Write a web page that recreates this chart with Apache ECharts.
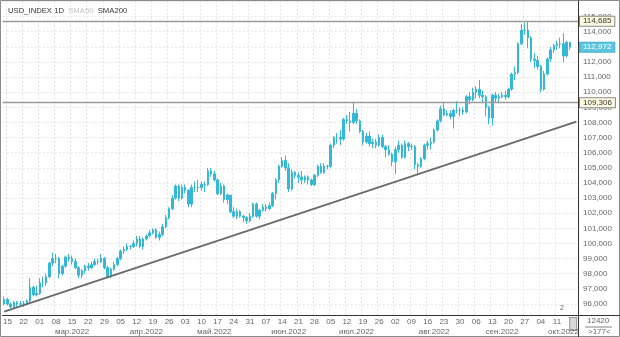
<!DOCTYPE html>
<html>
<head>
<meta charset="utf-8">
<script src="https://cdn.jsdelivr.net/npm/echarts@6/dist/echarts.min.js"></script>
<style>html,body{margin:0;padding:0;background:#fff}#c{width:620px;height:337px}</style>
</head>
<body>
<div id="c"></div>
<script>
const dates = ['02-14','02-15','02-16','02-17','02-18','02-21','02-22','02-23','02-24','02-25','02-28','03-01','03-02','03-03','03-04','03-07','03-08','03-09','03-10','03-11','03-14','03-15','03-16','03-17','03-18','03-21','03-22','03-23','03-24','03-25','03-28','03-29','03-30','03-31','04-01','04-04','04-05','04-06','04-07','04-08','04-11','04-12','04-13','04-14','04-15','04-18','04-19','04-20','04-21','04-22','04-25','04-26','04-27','04-28','04-29','05-02','05-03','05-04','05-05','05-06','05-09','05-10','05-11','05-12','05-13','05-16','05-17','05-18','05-19','05-20','05-23','05-24','05-25','05-26','05-27','05-30','05-31','06-01','06-02','06-03','06-06','06-07','06-08','06-09','06-10','06-13','06-14','06-15','06-16','06-17','06-20','06-21','06-22','06-23','06-24','06-27','06-28','06-29','06-30','07-01','07-04','07-05','07-06','07-07','07-08','07-11','07-12','07-13','07-14','07-15','07-18','07-19','07-20','07-21','07-22','07-25','07-26','07-27','07-28','07-29','08-01','08-02','08-03','08-04','08-05','08-08','08-09','08-10','08-11','08-12','08-15','08-16','08-17','08-18','08-19','08-22','08-23','08-24','08-25','08-26','08-29','08-30','08-31','09-01','09-02','09-05','09-06','09-07','09-08','09-09','09-12','09-13','09-14','09-15','09-16','09-19','09-20','09-21','09-22','09-23','09-26','09-27','09-28','09-29','09-30','10-03','10-04','10-05','10-06','10-07','10-10','10-11','10-12','10-13','10-14','10-17','10-18','10-19'];

const openV = [96.0,96.3,96.0,95.8,96.1, 96.0,96.0,96.0,96.2,97.1, 96.6,96.7,97.4,97.4,97.8, 98.7,99.0,99.0,98.0,98.5,
99.1,99.0,98.8,98.4,97.9, 98.2,98.5,98.4,98.6,98.8, 98.8,99.0,98.4,97.8,98.3, 98.6,99.0,99.5,99.6,99.8,
99.8,100.0,100.3,99.8,100.3, 100.5,100.7,100.9,100.4,100.6, 101.1,101.7,102.3,103.0,103.8, 103.0,103.7,103.5,102.6,103.7,
103.7,103.7,103.9,103.9,104.8, 104.6,104.2,103.3,103.8,102.9, 103.2,102.1,101.8,102.1,101.8, 101.7,101.5,101.8,102.6,101.8,
102.2,102.4,102.3,102.5,103.3, 104.2,105.1,105.5,105.0,103.6, 104.7,104.5,104.4,104.2,104.4, 104.2,103.9,104.5,105.1,104.7,
105.1,105.1,106.5,107.0,107.0, 106.9,108.2,108.1,108.0,108.6, 108.1,107.4,106.7,107.1,106.6, 106.7,106.5,107.0,106.4,106.2,
105.9,105.4,106.2,106.5,105.7, 106.6,106.4,106.4,105.2,105.1, 105.6,106.5,106.6,106.7,107.5, 108.1,108.9,108.5,108.6,108.4,
108.8,108.8,108.8,108.7,109.7, 109.5,110.0,110.2,109.8,109.7, 109.0,108.3,109.8,109.6,109.7, 109.8,109.7,110.2,111.2,111.3,
113.2,114.1,114.1,113.6,112.2, 112.1,111.7,110.2,111.2,112.2, 112.8,113.1,113.2,113.2,112.4, 113.3];

const closeV = [96.3,96.0,95.8,96.1,96.0, 96.0,96.0,96.2,97.1,96.6, 96.7,97.4,97.4,97.8,98.7, 99.0,99.0,98.0,98.5,99.1,
99.0,98.8,98.4,97.9,98.2, 98.5,98.4,98.6,98.8,98.8, 99.0,98.4,97.8,98.3,98.6, 99.0,99.5,99.6,99.8,99.8,
100.0,100.3,99.8,100.3,100.5, 100.7,100.9,100.4,100.6,101.1, 101.7,102.3,103.0,103.8,103.0, 103.7,103.5,102.6,103.7,103.7,
103.7,103.9,103.9,104.8,104.6, 104.2,103.3,103.8,102.9,103.2, 102.1,101.8,102.1,101.8,101.7, 101.5,101.8,102.6,101.8,102.2,
102.4,102.3,102.5,103.3,104.2, 105.1,105.5,105.0,103.6,104.7, 104.5,104.4,104.2,104.4,104.2, 103.9,104.5,105.1,104.7,105.1,
105.1,106.5,107.0,107.0,106.9, 108.2,108.1,108.0,108.6,108.1, 107.4,106.7,107.1,106.6,106.7, 106.5,107.0,106.4,106.2,105.9,
105.4,106.2,106.5,105.7,106.6, 106.4,106.4,105.2,105.1,105.6, 106.5,106.6,106.7,107.5,108.1, 108.9,108.5,108.6,108.4,108.8,
108.8,108.8,108.7,109.7,109.5, 110.0,110.2,109.8,109.7,109.0, 108.3,109.8,109.6,109.7,109.8, 109.7,110.2,111.2,111.3,113.2,
114.1,114.1,113.6,112.2,112.1, 111.7,110.2,111.2,112.2,112.8, 113.1,113.2,113.2,112.4,113.3, 112.972];

const lowV = [95.9,95.9,95.7,95.7,95.8, 95.9,95.8,95.9,96.1,96.5, 96.5,96.6,97.1,97.2,97.7, 98.5,98.7,97.7,97.9,98.4,
98.8,98.6,98.3,97.7,97.7, 98.0,98.2,98.3,98.5,98.6, 98.7,98.3,97.7,97.7,98.2, 98.5,98.9,99.3,99.5,99.6,
99.7,99.8,99.7,99.6,100.2, 100.4,100.6,100.3,100.2,100.5, 101.0,101.6,102.2,102.9,102.8, 102.9,103.3,102.4,102.4,103.4,
103.4,103.5,103.4,103.8,104.4, 104.1,103.2,103.2,102.7,102.6, 102.0,101.7,101.6,101.7,101.4, 101.3,101.4,101.7,101.7,101.6,
102.1,102.1,102.2,102.4,102.9, 104.0,105.0,104.8,103.4,103.5, 104.3,104.0,103.9,104.0,103.9, 103.8,103.8,104.4,104.6,104.6,
104.9,105.0,106.3,106.6,106.5, 106.8,107.9,107.4,107.9,107.9, 107.3,106.5,106.6,106.4,106.3, 106.3,106.4,106.3,105.7,105.8,
105.1,104.6,106.0,105.6,105.6, 106.1,106.2,104.9,104.6,105.0, 105.5,106.2,106.2,106.6,107.4, 108.0,108.4,108.4,108.2,107.6,
108.6,108.4,108.5,108.6,109.2, 109.4,109.6,109.6,109.3,108.4, 107.9,107.8,109.3,109.3,109.6, 109.5,109.6,110.1,110.8,111.2,
113.1,113.8,112.9,112.0,111.6, 111.5,110.0,110.1,111.1,112.0, 112.6,112.8,112.9,112.0,112.3, 112.8];

const highV = [96.5,96.4,96.1,96.2,96.2, 96.2,96.2,96.3,97.7,97.2, 97.2,97.7,97.8,98.0,98.8, 99.4,99.3,99.1,98.6,99.2,
99.3,99.2,99.0,98.5,98.3, 98.6,98.7,98.8,99.0,99.0, 99.3,99.1,98.5,98.4,98.8, 99.1,99.6,99.8,100.0,99.9,
100.2,100.5,100.5,100.4,100.6, 100.9,101.0,101.0,100.8,101.3, 101.9,102.4,103.2,103.9,103.9, 103.9,103.9,103.6,103.9,104.1,
104.2,104.1,104.1,105.0,105.0, 104.8,104.3,104.0,103.9,103.3, 103.2,102.4,102.3,102.2,101.9, 101.8,102.0,102.7,102.7,102.3,
102.6,102.6,102.7,103.4,104.3, 105.2,105.7,105.8,105.3,104.9, 104.8,104.7,104.8,104.5,104.5, 104.3,104.6,105.2,105.3,105.3,
105.2,106.6,107.1,107.3,107.5, 108.3,108.5,108.7,109.3,108.9, 108.2,107.5,107.3,107.4,106.9, 106.9,107.2,107.2,106.5,106.5,
106.0,106.4,106.8,106.6,106.8, 106.7,106.6,106.5,105.3,105.7, 106.6,106.8,107.0,107.6,108.2, 109.1,109.3,108.8,108.8,108.9,
109.4,109.0,109.0,109.8,110.0, 110.3,110.4,110.8,110.1,109.8, 109.1,109.9,110.0,109.9,110.0, 110.1,110.3,111.3,111.7,113.3,
114.5,114.6,114.7,113.7,112.6, 112.4,111.8,111.4,112.3,113.0, 113.2,113.4,113.6,113.9,113.4, 113.3];

const levelLines = [114.685, 109.306];
const lastPrice = 112.972;
const trendStart = ['02-14', 95.5];
const trendEnd = ['10-19', 108.05];
const monthLabelDates = ['03-15','04-15','05-16','06-16','07-15','08-18','09-16','10-13'];
const monthLabelTexts = ['мар.2022','апр.2022','май.2022','июн.2022','июл.2022','авг.2022','сен.2022','окт.2022'];
const markerDate = '10-18';
const maxShownTick = 115;

const FONT = 'Liberation Sans, Arial, sans-serif';
const CYAN = '#33b8d6';
const fmt = v => v.toFixed(3).replace('.', ',');
const isTue = d => new Date(2022, +d.slice(0,2)-1, +d.slice(3)).getDay() === 2;
const lastDataIdx = closeV.length - 1;

const ohlc = openV.map((o, i) => [o, closeV[i], lowV[i], highV[i]]);

const chart = echarts.init(document.getElementById('c'), null, {renderer: 'canvas'});
chart.setOption({
  animation: false,
  backgroundColor: '#fff',
  textStyle: {fontFamily: FONT},
  title: {
    left: 3, top: 2,
    text: 'USD_INDEX 1D  {b|SMA50}  SMA200',
    textStyle: {fontSize: 7.7, fontWeight: 'normal', color: '#333', fontFamily: FONT,
      rich: {b: {fontSize: 7.7, color: '#c4c4c4', fontFamily: FONT}}}
  },
  grid: {left: 2, right: 42, top: 1, bottom: 22},
  xAxis: [{
    type: 'category', data: dates, boundaryGap: true,
    axisLine: {lineStyle: {color: '#333', width: 1}},
    axisTick: {show: false},
    axisLabel: {
      fontSize: 8, color: '#666', margin: 3, fontFamily: FONT,
      interval: (i, d) => (isTue(d) && i <= lastDataIdx) || d === markerDate,
      formatter: d => d === markerDate ? '{box|}' : d.slice(3),
      rich: {box: {width: 6, height: 12, backgroundColor: '#d8d8d8', borderColor: '#999', borderWidth: 1}}
    },
    splitLine: {show: true, interval: (i, d) => isTue(d) && i <= lastDataIdx,
      lineStyle: {color: '#e4e4e4', type: [2, 2]}}
  }, {
    type: 'category', data: dates, boundaryGap: true, position: 'bottom', offset: 10,
    axisLine: {show: false}, axisTick: {show: false}, splitLine: {show: false},
    axisLabel: {
      fontSize: 8, color: '#666', margin: 3, fontFamily: FONT,
      interval: (i, d) => monthLabelDates.indexOf(d) >= 0,
      formatter: d => monthLabelTexts[monthLabelDates.indexOf(d)] || ''
    }
  }],
  yAxis: {
    type: 'value', position: 'right', min: 95.27, max: 116.03, splitNumber: 20, scale: true,
    axisLine: {show: true, lineStyle: {color: '#333', width: 1}},
    axisTick: {show: false},
    axisLabel: {fontSize: 8, color: '#666', margin: 5, fontFamily: FONT,
      formatter: v => v > maxShownTick + 0.5 ? '' : fmt(v),
      showMinLabel: false, showMaxLabel: false},
    splitLine: {show: true, lineStyle: {color: '#e4e4e4', type: [2, 2]}}
  },
  series: [{
    type: 'candlestick', xAxisIndex: 0, data: ohlc, barWidth: 2,
    itemStyle: {color: CYAN, color0: CYAN, borderColor: CYAN, borderColor0: CYAN, borderWidth: 1},
    markLine: {
      silent: true, symbol: 'none', animation: false,
      data: [
        ...levelLines.map(v => ({yAxis: v,
          lineStyle: {color: '#9a9a9a', width: 1.3, type: 'solid'},
          label: {show: true, position: 'end', distance: 2, formatter: fmt(v), fontSize: 8, color: '#333',
            backgroundColor: '#fffbe0', borderColor: '#888', borderWidth: 1, padding: [1, 3, 0, 3], fontFamily: FONT}})),
        {yAxis: lastPrice, lineStyle: {color: 'rgba(0,0,0,0)', width: 1, opacity: 1},
          label: {show: true, position: 'end', distance: 2, formatter: fmt(lastPrice), fontSize: 8, color: '#fff',
            backgroundColor: '#5cc6e0', borderColor: '#4ab0cc', borderWidth: 1, padding: [1, 3, 0, 3], fontFamily: FONT, opacity: 1}},
        [{coord: trendStart, lineStyle: {color: '#6a6a6a', width: 1.8, type: 'solid'}, label: {show: false}},
         {coord: trendEnd}]
      ]
    }
  }],
  graphic: [
    {type: 'rect', shape: {x: 0.5, y: 0.5, width: 619, height: 336}, style: {fill: 'none', stroke: '#8a8a8a', lineWidth: 1}, silent: true},
    {type: 'line', shape: {x1: 578, y1: 315.5, x2: 620, y2: 315.5}, style: {stroke: '#333', lineWidth: 1}, silent: true},
    {type: 'line', shape: {x1: 578.5, y1: 315, x2: 578.5, y2: 337}, style: {stroke: '#333', lineWidth: 1}, silent: true},
    {type: 'text', left: 587, top: 317, style: {text: '12420', fontSize: 8, fill: '#666', font: '8px ' + FONT}, silent: true},
    {type: 'line', shape: {x1: 585, y1: 327, x2: 612, y2: 327}, style: {stroke: '#666', lineWidth: 0.8}, silent: true},
    {type: 'text', left: 588, top: 328, style: {text: '>177<', fontSize: 8, fill: '#666', font: '8px ' + FONT}, silent: true},
    {type: 'text', left: 560, top: 305, style: {text: '2', fontSize: 7, fill: '#666', font: '7px ' + FONT}, silent: true}
  ]
});
</script>
</body>
</html>
